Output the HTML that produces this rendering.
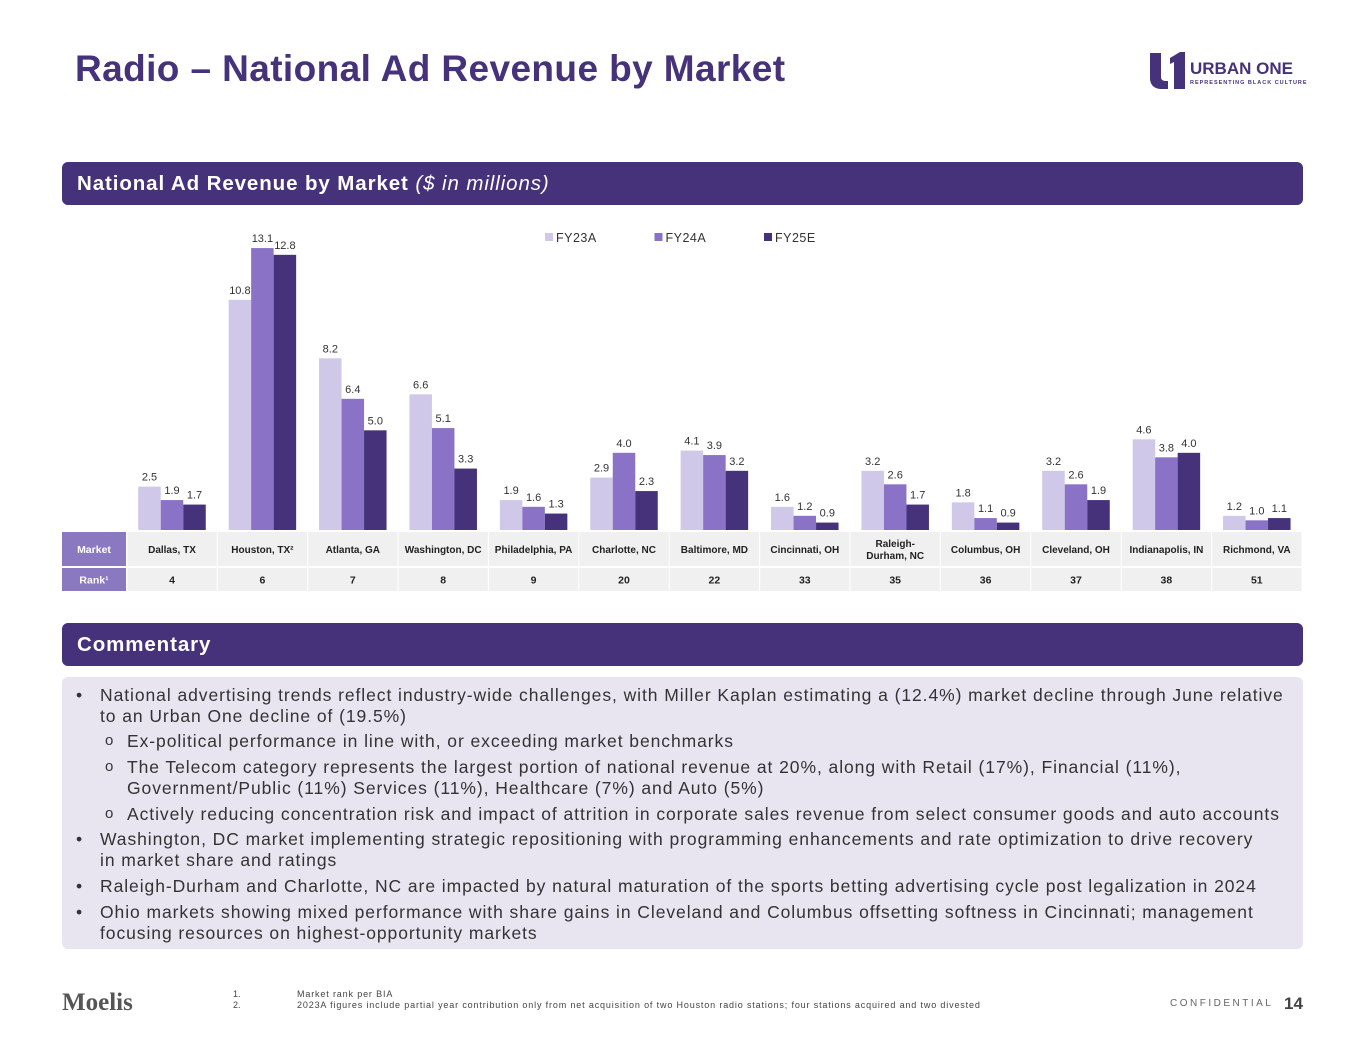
<!DOCTYPE html>
<html><head><meta charset="utf-8"><style>
*{margin:0;padding:0;box-sizing:border-box}
body{width:1365px;height:1055px;background:#fff;font-family:"Liberation Sans",sans-serif;position:relative;overflow:hidden;color:#333}
.abs{position:absolute}
.title{left:75px;top:48px;font-size:37px;font-weight:bold;color:#45327a;letter-spacing:0.4px}
.band{left:62px;width:1241px;height:43px;background:#45327a;border-radius:6px;color:#fff;font-size:20.5px;font-weight:bold;padding:10px 0 0 15px;letter-spacing:0.9px}
.box{left:62px;top:677px;width:1241px;height:272px;background:#e8e5f0;border-radius:6px;font-size:17.5px;color:#333;line-height:20.5px;letter-spacing:0.93px}
.li{position:absolute;left:38px;width:1200px}
.b{position:absolute;left:-24px}
.o{position:absolute;left:-22px;font-size:15px}
</style></head><body>
<div class="abs title">Radio – National Ad Revenue by Market</div>
<div class="abs" style="left:1148px;top:50px;width:160px;height:40px">
<svg width="160" height="40"><path d="M2 3h11v24c0 3 2 4 5 4h2v8h-6C6 39 2 35 2 28z" fill="#45327a"/><path d="M22 8l10-6h5v37H26V12l-4 2z" fill="#45327a"/>
<text x="42" y="24" font-family="Liberation Sans" font-weight="bold" font-size="17" fill="#45327a">URBAN ONE</text>
<text x="42" y="34" font-family="Liberation Sans" font-weight="bold" font-size="5.5" fill="#45327a" letter-spacing="1">REPRESENTING BLACK CULTURE</text></svg></div>
<div class="abs band" style="top:162px">National Ad Revenue by Market <span style="font-weight:normal;font-style:italic">($ in millions)</span></div>
<svg class="abs" style="left:0;top:0" width="1365" height="600" id="chart"></svg>
<div class="abs band" style="top:623px">Commentary</div>
<div class="abs box">
<div class="li" style="top:8px"><span class="b">•</span>National advertising trends reflect industry-wide challenges, with Miller Kaplan estimating a (12.4%) market decline through June relative<br>to an Urban One decline of (19.5%)</div>
<div class="li" style="top:54px;left:65px"><span class="o">o</span>Ex-political performance in line with, or exceeding market benchmarks</div>
<div class="li" style="top:80px;left:65px;width:1175px"><span class="o">o</span>The Telecom category represents the largest portion of national revenue at 20%, along with Retail (17%), Financial (11%),<br>Government/Public (11%) Services (11%), Healthcare (7%) and Auto (5%)</div>
<div class="li" style="top:127px;left:65px;width:1175px;white-space:nowrap"><span class="o">o</span>Actively reducing concentration risk and impact of attrition in corporate sales revenue from select consumer goods and auto accounts</div>
<div class="li" style="top:152px"><span class="b">•</span>Washington, DC market implementing strategic repositioning with programming enhancements and rate optimization to drive recovery<br>in market share and ratings</div>
<div class="li" style="top:199px"><span class="b">•</span>Raleigh-Durham and Charlotte, NC are impacted by natural maturation of the sports betting advertising cycle post legalization in 2024</div>
<div class="li" style="top:225px"><span class="b">•</span>Ohio markets showing mixed performance with share gains in Cleveland and Columbus offsetting softness in Cincinnati; management<br>focusing resources on highest-opportunity markets</div>
</div>
<div class="abs" style="left:62px;top:989px;font-family:'Liberation Serif',serif;font-size:25px;font-weight:bold;color:#555">Moelis</div>
<div class="abs" style="left:233px;top:989px;font-size:9px;color:#444;line-height:11px">
<div>1.<span style="position:absolute;left:64px;white-space:nowrap;letter-spacing:0.85px">Market rank per BIA</span></div>
<div>2.<span style="position:absolute;left:64px;white-space:nowrap;letter-spacing:0.85px">2023A figures include partial year contribution only from net acquisition of two Houston radio stations; four stations acquired and two divested</span></div></div>
<div class="abs" style="left:1170px;top:998px;font-size:10px;letter-spacing:2.5px;color:#666">CONFIDENTIAL</div>
<div class="abs" style="left:1284px;top:994px;font-size:17px;font-weight:bold;color:#444">14</div>
<script>
const categories=["Dallas, TX","Houston, TX²","Atlanta, GA","Washington, DC","Philadelphia, PA","Charlotte, NC","Baltimore, MD","Cincinnati, OH","Raleigh-|Durham, NC","Columbus, OH","Cleveland, OH","Indianapolis, IN","Richmond, VA"];
const ranks=[4,6,7,8,9,20,22,33,35,36,37,38,51];
const fy23=[2.5,10.8,8.2,6.6,1.9,2.9,4.1,1.6,3.2,1.8,3.2,4.6,1.2];
const fy24=[1.9,13.1,6.4,5.1,1.6,4.0,3.9,1.2,2.6,1.1,2.6,3.8,1.0];
const fy25=[1.7,12.8,5.0,3.3,1.3,2.3,3.2,0.9,1.7,0.9,1.9,4.0,1.1];
const seriesNames=["FY23A","FY24A","FY25E"];
const svg=document.getElementById('chart');const NS="http://www.w3.org/2000/svg";
const colors=["#d0c8e8","#8a72c6","#45327a"];
const base=530,scale=22.5,vmin=0.57;
function y(v){return base-(v-vmin)*scale;}
function cx(i){return 172+i*90.4;}
function mk(t,a){const e=document.createElementNS(NS,t);for(const k in a)e.setAttribute(k,a[k]);svg.appendChild(e);return e;}
const series=[fy23,fy24,fy25];
series.forEach((s,si)=>{s.forEach((v,i)=>{
const x=cx(i)-33.75+si*22.5;
const r=mk('rect',{x:x,y:y(v),width:22.5,height:base-y(v),fill:colors[si]});


const t=mk('text',{x:x+11.25,y:y(v)-6,'text-anchor':'middle','font-size':'11',fill:'#333','font-family':'Liberation Sans'});
t.textContent=v.toFixed(1);


});});
seriesNames.forEach((n,si)=>{const lx=545+si*109.5;
const r=mk('rect',{x:lx,y:233,width:8,height:8,fill:colors[si]});


const t=mk('text',{x:lx+11,y:242,'font-size':'12.5',fill:'#333','font-family':'Liberation Sans','letter-spacing':'0.5'});t.textContent=n;

});
[["Market",532,34],["Rank¹",568,23]].forEach(([lab,ty,h],ri)=>{
const hr=mk('rect',{x:62,y:ty,width:64,height:h,fill:'#8a78c0'});


const ht=mk('text',{x:94,y:ty+h/2+4,'text-anchor':'middle','font-size':'10.5','font-weight':'bold',fill:'#fff','font-family':'Liberation Sans'});ht.textContent=lab;


categories.forEach((c,i)=>{
const cr=mk('rect',{x:cx(i)-44.7,y:ty,width:89.4,height:h,fill:'#f0f0f0'});


const lines=ri==0?c.split('|'):[String(ranks[i])];
lines.forEach((ln,li)=>{const t=mk('text',{x:cx(i),y:ty+h/2+4+(li-(lines.length-1)/2)*12,'text-anchor':'middle','font-size':ri==0?'10':'10.5','font-weight':'bold',fill:'#222','font-family':'Liberation Sans'});
t.textContent=ln;

});
});});
</script>
</body></html>
